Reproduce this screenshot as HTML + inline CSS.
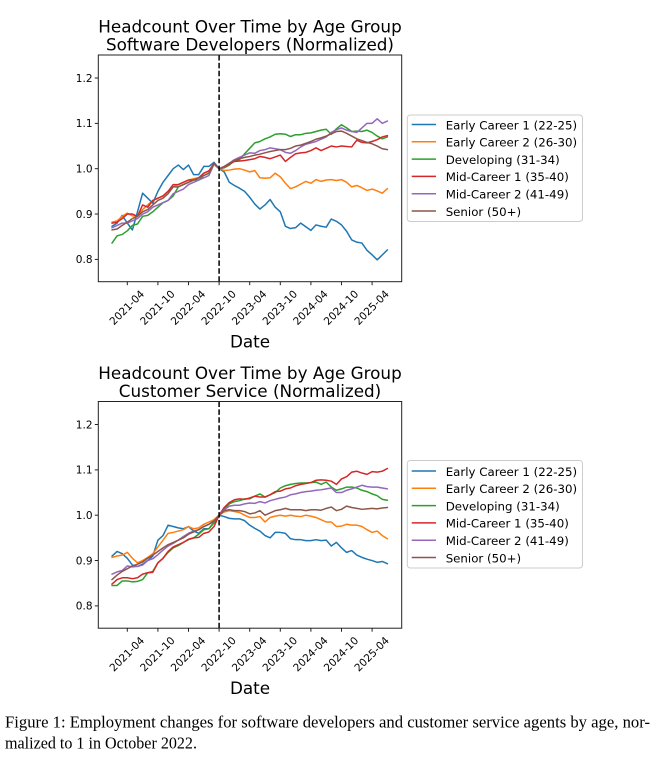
<!DOCTYPE html>
<html><head><meta charset="utf-8"><style>
html,body{margin:0;padding:0;background:#fff;}
svg{display:block;}
text{font-family:"DejaVu Sans","Liberation Sans",sans-serif;fill:#000;}
.tk{font-size:10.5px;}
.ti{font-size:16.8px;}
.lg{font-size:11.8px;}
.cap{font-family:"Liberation Serif",serif;font-size:16.5px;}
</style></head><body>
<svg id="s" width="660" height="759" viewBox="0 0 660 759" xmlns="http://www.w3.org/2000/svg">
<rect width="660" height="759" fill="#fff"/>

<g id="c0">
  <text class="ti" x="250" y="32.3" text-anchor="middle">Headcount Over Time by Age Group</text>
  <text class="ti" x="250" y="50.6" text-anchor="middle">Software Developers (Normalized)</text>
  <g id="l0"></g>
  <line x1="219.1" y1="55" x2="219.1" y2="281.7" stroke="#000" stroke-width="1.5" stroke-dasharray="5.5 2.4"/>
  <rect x="98.3" y="55" width="303.4" height="226.7" fill="none" stroke="#222" stroke-width="1"/>
  <g stroke="#222" stroke-width="1">
    <line x1="94.8" y1="78" x2="98.3" y2="78"/><line x1="94.8" y1="123.4" x2="98.3" y2="123.4"/>
    <line x1="94.8" y1="168.7" x2="98.3" y2="168.7"/><line x1="94.8" y1="214" x2="98.3" y2="214"/>
    <line x1="94.8" y1="259.4" x2="98.3" y2="259.4"/>
    <line x1="127.3" y1="281.7" x2="127.3" y2="285.2"/><line x1="157.9" y1="281.7" x2="157.9" y2="285.2"/>
    <line x1="188.5" y1="281.7" x2="188.5" y2="285.2"/><line x1="219.1" y1="281.7" x2="219.1" y2="285.2"/>
    <line x1="249.7" y1="281.7" x2="249.7" y2="285.2"/><line x1="280.3" y1="281.7" x2="280.3" y2="285.2"/>
    <line x1="310.9" y1="281.7" x2="310.9" y2="285.2"/><line x1="341.5" y1="281.7" x2="341.5" y2="285.2"/>
    <line x1="372.1" y1="281.7" x2="372.1" y2="285.2"/>
  </g>
  <g class="tk" text-anchor="end">
    <text x="92.5" y="81.8">1.2</text><text x="92.5" y="127.2">1.1</text><text x="92.5" y="172.5">1.0</text>
    <text x="92.5" y="217.8">0.9</text><text x="92.5" y="263.2">0.8</text>
  </g>
  <g class="tk" text-anchor="middle" dominant-baseline="central">
    <text transform="translate(127.3,308) rotate(-45)">2021-04</text>
    <text transform="translate(157.9,308) rotate(-45)">2021-10</text>
    <text transform="translate(188.5,308) rotate(-45)">2022-04</text>
    <text transform="translate(219.1,308) rotate(-45)">2022-10</text>
    <text transform="translate(249.7,308) rotate(-45)">2023-04</text>
    <text transform="translate(280.3,308) rotate(-45)">2023-10</text>
    <text transform="translate(310.9,308) rotate(-45)">2024-04</text>
    <text transform="translate(341.5,308) rotate(-45)">2024-10</text>
    <text transform="translate(372.1,308) rotate(-45)">2025-04</text>
  </g>
  <text class="ti" x="250" y="347.3" text-anchor="middle">Date</text>
  <rect x="407.3" y="115" width="175.2" height="106.5" rx="3" fill="#fff" fill-opacity="0.8" stroke="#cccccc" stroke-width="1"/>
  <g stroke-width="1.5">
    <line x1="411.7" y1="124.5" x2="436" y2="124.5" stroke="#1f77b4"/>
    <line x1="411.7" y1="141.8" x2="436" y2="141.8" stroke="#ff7f0e"/>
    <line x1="411.7" y1="159.1" x2="436" y2="159.1" stroke="#2ca02c"/>
    <line x1="411.7" y1="176.4" x2="436" y2="176.4" stroke="#d62728"/>
    <line x1="411.7" y1="193.7" x2="436" y2="193.7" stroke="#9467bd"/>
    <line x1="411.7" y1="211" x2="436" y2="211" stroke="#8c564b"/>
  </g>
  <g class="lg">
    <text x="445.7" y="129.3">Early Career 1 (22-25)</text>
    <text x="445.7" y="146.6">Early Career 2 (26-30)</text>
    <text x="445.7" y="163.9">Developing (31-34)</text>
    <text x="445.7" y="181.2">Mid-Career 1 (35-40)</text>
    <text x="445.7" y="198.5">Mid-Career 2 (41-49)</text>
    <text x="445.7" y="215.8">Senior (50+)</text>
  </g>
</g>

<g id="c1" transform="translate(0,346.5)">
  <text class="ti" x="250" y="32.3" text-anchor="middle">Headcount Over Time by Age Group</text>
  <text class="ti" x="250" y="50.6" text-anchor="middle">Customer Service (Normalized)</text>
  <g id="l1"></g>
  <line x1="219.1" y1="55" x2="219.1" y2="281.7" stroke="#000" stroke-width="1.5" stroke-dasharray="5.5 2.4"/>
  <rect x="98.3" y="55" width="303.4" height="226.7" fill="none" stroke="#222" stroke-width="1"/>
  <g stroke="#222" stroke-width="1">
    <line x1="94.8" y1="78" x2="98.3" y2="78"/><line x1="94.8" y1="123.4" x2="98.3" y2="123.4"/>
    <line x1="94.8" y1="168.7" x2="98.3" y2="168.7"/><line x1="94.8" y1="214" x2="98.3" y2="214"/>
    <line x1="94.8" y1="259.4" x2="98.3" y2="259.4"/>
    <line x1="127.3" y1="281.7" x2="127.3" y2="285.2"/><line x1="157.9" y1="281.7" x2="157.9" y2="285.2"/>
    <line x1="188.5" y1="281.7" x2="188.5" y2="285.2"/><line x1="219.1" y1="281.7" x2="219.1" y2="285.2"/>
    <line x1="249.7" y1="281.7" x2="249.7" y2="285.2"/><line x1="280.3" y1="281.7" x2="280.3" y2="285.2"/>
    <line x1="310.9" y1="281.7" x2="310.9" y2="285.2"/><line x1="341.5" y1="281.7" x2="341.5" y2="285.2"/>
    <line x1="372.1" y1="281.7" x2="372.1" y2="285.2"/>
  </g>
  <g class="tk" text-anchor="end">
    <text x="92.5" y="81.8">1.2</text><text x="92.5" y="127.2">1.1</text><text x="92.5" y="172.5">1.0</text>
    <text x="92.5" y="217.8">0.9</text><text x="92.5" y="263.2">0.8</text>
  </g>
  <g class="tk" text-anchor="middle" dominant-baseline="central">
    <text transform="translate(127.3,308) rotate(-45)">2021-04</text>
    <text transform="translate(157.9,308) rotate(-45)">2021-10</text>
    <text transform="translate(188.5,308) rotate(-45)">2022-04</text>
    <text transform="translate(219.1,308) rotate(-45)">2022-10</text>
    <text transform="translate(249.7,308) rotate(-45)">2023-04</text>
    <text transform="translate(280.3,308) rotate(-45)">2023-10</text>
    <text transform="translate(310.9,308) rotate(-45)">2024-04</text>
    <text transform="translate(341.5,308) rotate(-45)">2024-10</text>
    <text transform="translate(372.1,308) rotate(-45)">2025-04</text>
  </g>
  <text class="ti" x="250" y="347.3" text-anchor="middle">Date</text>
  <rect x="407.3" y="114" width="175.2" height="107.5" rx="3" fill="#fff" fill-opacity="0.8" stroke="#cccccc" stroke-width="1"/>
  <g stroke-width="1.5">
    <line x1="411.7" y1="124.5" x2="436" y2="124.5" stroke="#1f77b4"/>
    <line x1="411.7" y1="141.8" x2="436" y2="141.8" stroke="#ff7f0e"/>
    <line x1="411.7" y1="159.1" x2="436" y2="159.1" stroke="#2ca02c"/>
    <line x1="411.7" y1="176.4" x2="436" y2="176.4" stroke="#d62728"/>
    <line x1="411.7" y1="193.7" x2="436" y2="193.7" stroke="#9467bd"/>
    <line x1="411.7" y1="211" x2="436" y2="211" stroke="#8c564b"/>
  </g>
  <g class="lg">
    <text x="445.7" y="129.3">Early Career 1 (22-25)</text>
    <text x="445.7" y="146.6">Early Career 2 (26-30)</text>
    <text x="445.7" y="163.9">Developing (31-34)</text>
    <text x="445.7" y="181.2">Mid-Career 1 (35-40)</text>
    <text x="445.7" y="198.5">Mid-Career 2 (41-49)</text>
    <text x="445.7" y="215.8">Senior (50+)</text>
  </g>
</g>

<text class="cap" x="5" y="727.5" textLength="645" lengthAdjust="spacingAndGlyphs">Figure 1: Employment changes for software developers and customer service agents by age, nor-</text>
<text class="cap" x="5" y="748.5" textLength="192" lengthAdjust="spacingAndGlyphs">malized to 1 in October 2022.</text>
</svg>
<script>
(function(){
var colors=["#1f77b4","#ff7f0e","#2ca02c","#d62728","#9467bd","#8c564b"];
var top=[
[0.873,0.88,0.897,0.88,0.865,0.905,0.946,0.935,0.924,0.95,0.97,0.985,1.0,1.008,0.998,1.008,0.987,0.987,1.005,1.005,1.014,
 1.0,0.993,0.97,0.963,0.957,0.95,0.937,0.922,0.911,0.92,0.932,0.915,0.905,0.873,0.868,0.870,0.88,0.872,0.864,0.876,0.873,0.871,0.889,0.884,0.876,0.862,0.843,0.838,0.836,0.82,0.81,0.799,0.81,0.821],
[0.882,0.885,0.895,0.902,0.896,0.895,0.91,0.92,0.93,0.935,0.94,0.95,0.96,0.965,0.97,0.975,0.978,0.98,0.99,0.995,1.01,
 1.0,0.996,0.997,0.999,1.0,0.997,0.993,0.996,0.98,0.979,0.98,0.99,0.982,0.968,0.956,0.96,0.966,0.972,0.968,0.976,0.972,0.975,0.976,0.974,0.976,0.97,0.96,0.963,0.958,0.952,0.955,0.951,0.946,0.956],
[0.836,0.852,0.855,0.863,0.875,0.878,0.895,0.897,0.905,0.915,0.925,0.93,0.94,0.96,0.965,0.97,0.975,0.975,0.985,0.99,1.01,
 1.0,1.002,1.008,1.018,1.02,1.033,1.045,1.057,1.06,1.066,1.07,1.076,1.077,1.076,1.071,1.075,1.075,1.078,1.079,1.082,1.085,1.087,1.076,1.088,1.097,1.09,1.082,1.083,1.082,1.085,1.08,1.072,1.066,1.07],
[0.88,0.882,0.89,0.9,0.9,0.895,0.92,0.915,0.93,0.935,0.94,0.95,0.965,0.965,0.97,0.975,0.975,0.98,0.99,0.995,1.012,
 1.0,1.003,1.01,1.016,1.017,1.018,1.02,1.022,1.027,1.025,1.022,1.026,1.03,1.016,1.025,1.033,1.035,1.036,1.04,1.046,1.04,1.045,1.05,1.048,1.05,1.049,1.048,1.063,1.058,1.057,1.06,1.064,1.07,1.073],
[0.87,0.875,0.88,0.88,0.885,0.89,0.9,0.905,0.915,0.92,0.925,0.93,0.945,0.95,0.955,0.965,0.97,0.975,0.98,0.985,1.01,
 1.0,1.004,1.012,1.02,1.025,1.03,1.035,1.034,1.04,1.042,1.046,1.044,1.042,1.036,1.034,1.04,1.048,1.054,1.057,1.06,1.065,1.07,1.08,1.086,1.09,1.085,1.082,1.08,1.09,1.1,1.1,1.11,1.1,1.105],
[0.865,0.867,0.875,0.882,0.89,0.895,0.905,0.91,0.92,0.93,0.935,0.945,0.96,0.96,0.965,0.97,0.975,0.98,0.985,0.99,1.012,
 1.0,1.005,1.012,1.018,1.022,1.025,1.027,1.03,1.032,1.035,1.038,1.04,1.042,1.042,1.045,1.05,1.052,1.056,1.06,1.065,1.068,1.072,1.077,1.082,1.083,1.078,1.072,1.066,1.062,1.058,1.055,1.05,1.044,1.042]
];
var bot=[
[0.91,0.92,0.915,0.905,0.89,0.887,0.892,0.9,0.91,0.945,0.955,0.978,0.975,0.972,0.97,0.975,0.965,0.96,0.97,0.97,0.985,
 1.0,0.997,0.993,0.992,0.992,0.988,0.978,0.971,0.965,0.955,0.95,0.962,0.962,0.96,0.948,0.946,0.946,0.944,0.944,0.946,0.944,0.945,0.932,0.94,0.928,0.918,0.922,0.912,0.907,0.903,0.9,0.896,0.898,0.893],
[0.907,0.91,0.912,0.918,0.905,0.895,0.9,0.907,0.915,0.93,0.945,0.96,0.962,0.965,0.968,0.975,0.97,0.972,0.98,0.985,0.99,
 1.0,1.007,1.01,1.008,1.006,1.0,0.995,0.995,0.997,0.985,0.995,0.998,1.0,0.998,1.0,0.998,0.997,1.0,0.998,0.995,0.99,0.985,0.985,0.975,0.976,0.98,0.978,0.978,0.975,0.968,0.962,0.965,0.955,0.948],
[0.845,0.845,0.855,0.855,0.853,0.854,0.858,0.873,0.876,0.895,0.905,0.918,0.928,0.933,0.94,0.946,0.95,0.958,0.968,0.97,0.983,
 1.0,1.014,1.025,1.03,1.032,1.036,1.036,1.042,1.047,1.04,1.045,1.05,1.06,1.065,1.068,1.07,1.071,1.071,1.072,1.073,1.068,1.073,1.062,1.055,1.058,1.062,1.062,1.06,1.055,1.052,1.047,1.043,1.035,1.033],
[0.848,0.858,0.862,0.862,0.86,0.862,0.87,0.873,0.874,0.895,0.905,0.92,0.93,0.935,0.94,0.947,0.95,0.951,0.96,0.963,0.975,
 1.0,1.017,1.028,1.034,1.036,1.035,1.038,1.042,1.04,1.04,1.045,1.052,1.053,1.058,1.06,1.065,1.068,1.07,1.072,1.077,1.078,1.077,1.075,1.068,1.08,1.085,1.095,1.097,1.093,1.09,1.096,1.095,1.097,1.103],
[0.87,0.875,0.878,0.888,0.886,0.887,0.89,0.9,0.904,0.913,0.923,0.932,0.938,0.945,0.953,0.96,0.965,0.968,0.975,0.98,0.988,
 1.0,1.012,1.02,1.022,1.022,1.025,1.027,1.026,1.03,1.027,1.032,1.035,1.038,1.04,1.045,1.047,1.05,1.052,1.053,1.055,1.056,1.058,1.06,1.05,1.05,1.055,1.058,1.062,1.066,1.063,1.062,1.062,1.06,1.058],
[0.858,0.868,0.876,0.882,0.888,0.892,0.897,0.905,0.912,0.92,0.928,0.935,0.94,0.945,0.95,0.958,0.963,0.968,0.975,0.98,0.987,
 1.0,1.01,1.012,1.01,1.01,1.008,1.003,1.005,1.01,1.0,1.005,1.01,1.012,1.015,1.012,1.012,1.012,1.01,1.012,1.012,1.011,1.015,1.018,1.01,1.013,1.02,1.017,1.015,1.013,1.014,1.015,1.014,1.016,1.017]
];
var NS="http://www.w3.org/2000/svg";
function draw(id,data){
  var g=document.getElementById(id);
  for(var s=0;s<data.length;s++){
    var pts=[];
    for(var i=0;i<data[s].length;i++){
      var x=112+5.1*i, y=168.7-(data[s][i]-1)*453.4;
      pts.push(x.toFixed(2)+","+y.toFixed(2));
    }
    var p=document.createElementNS(NS,"polyline");
    p.setAttribute("points",pts.join(" "));
    p.setAttribute("fill","none");
    p.setAttribute("stroke",colors[s]);
    p.setAttribute("stroke-width","1.5");
    p.setAttribute("stroke-linejoin","round");
    p.setAttribute("stroke-linecap","round");
    g.appendChild(p);
  }
}
draw("l0",top);
draw("l1",bot);
})();
</script>
</body></html>
